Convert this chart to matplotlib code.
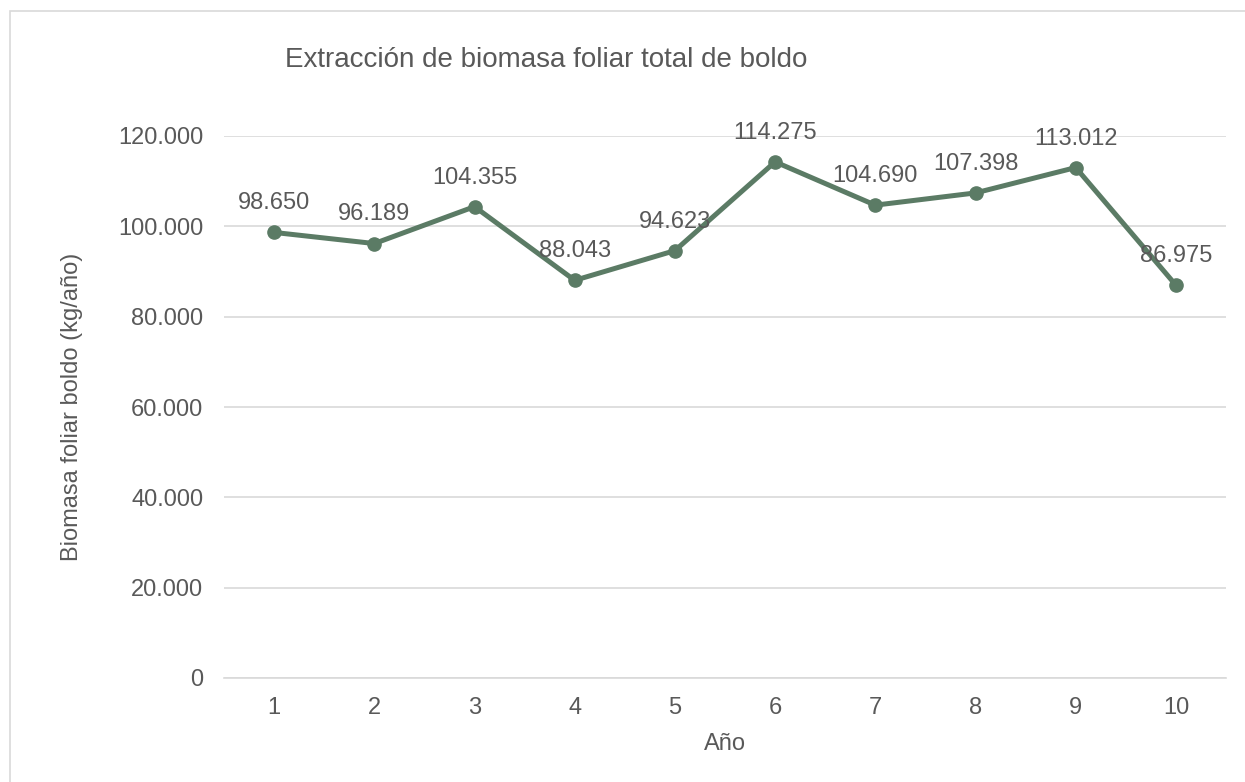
import matplotlib.pyplot as plt
from matplotlib.patches import Rectangle
from matplotlib.ticker import FuncFormatter

plt.rcParams['font.family'] = ['Liberation Sans', 'DejaVu Sans']

anios = [1, 2, 3, 4, 5, 6, 7, 8, 9, 10]
biomasa = [98650, 96189, 104355, 88043, 94623, 114275, 104690, 107398, 113012, 86975]
y_ticks = [0, 20000, 40000, 60000, 80000, 100000, 120000]

gris_texto = "#595959"
verde = "#5b7b65"
fs = 17


def miles(v, pos=None):
    # separador de miles con punto
    return f"{int(round(v)):,}".replace(",", ".")


fig = plt.figure(figsize=(12.45, 7.82), dpi=100)
W, H = 1245, 782

# marco del área del gráfico
fig.patches.append(Rectangle((10 / W, -0.1), 1.2, 1 - 11 / H + 0.1, transform=fig.transFigure,
                             fill=False, edgecolor="#d9d9d9", linewidth=1.2))

ax = fig.add_axes([224 / W, 1 - 678 / H, (1226 - 224) / W, (678 - 136) / H])
x = list(range(len(anios)))
ax.plot(x, biomasa, color=verde, linewidth=3.6, marker="o", markersize=9.5, zorder=3)

for xi, v in zip(x, biomasa):
    ax.annotate(miles(v), (xi, v), xytext=(0, 13), textcoords="offset points",
                ha="center", va="bottom", fontsize=fs, color=gris_texto, zorder=4)

ax.set_xlim(-0.5, len(anios) - 0.5)
ax.set_ylim(0, 120000)
ax.set_xticks(x)
ax.set_xticklabels([str(a) for a in anios])
ax.set_yticks(y_ticks)
ax.yaxis.set_major_formatter(FuncFormatter(miles))
ax.tick_params(axis="both", length=0, labelsize=fs, labelcolor=gris_texto)
ax.tick_params(axis="x", pad=14)
ax.tick_params(axis="y", pad=15)

ax.grid(axis="y", color="#d9d9d9", linewidth=1.2)
ax.set_axisbelow(True)
for s in ["top", "right", "left"]:
    ax.spines[s].set_visible(False)
ax.spines["bottom"].set_color("#d9d9d9")
ax.spines["bottom"].set_linewidth(1.2)

ax.set_xlabel("Año", fontsize=fs, color=gris_texto, labelpad=10)
ax.set_ylabel("Biomasa foliar boldo (kg/año)", fontsize=fs, color=gris_texto, labelpad=25)

fig.text(285 / W, 1 - 60 / H, "Extracción de biomasa foliar total de boldo",
         fontsize=20, color=gris_texto, ha="left", va="center")

fig.savefig("out.png", dpi=100, facecolor="white")
